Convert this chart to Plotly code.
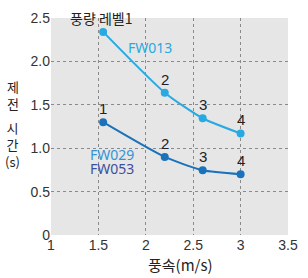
import plotly.graph_objects as go

wind_speed = [1.55, 2.2, 2.6, 3.0]
fw013_time = [2.34, 1.64, 1.345, 1.17]
fw029_time = [1.30, 0.90, 0.745, 0.70]
level_labels = ["1", "2", "3", "4"]
x_ticks = [1, 1.5, 2, 2.5, 3, 3.5]
x_tick_text = ["1", "1.5", "2", "2.5", "3", "3.5"]
y_ticks = [0, 0.5, 1.0, 1.5, 2.0, 2.5]
y_tick_text = ["0", "0.5", "1.0", "1.5", "2.0", "2.5"]

LIGHT = "#29a9e1"
DARK = "#1a72bb"
KR = "Noto Sans CJK KR"
NUM = "Liberation Sans"

fig = go.Figure()
fig.add_trace(go.Scatter(x=wind_speed, y=fw013_time, mode="lines+markers",
                         line=dict(color=LIGHT, width=2, shape="spline", smoothing=0.6),
                         marker=dict(color=LIGHT, size=8), showlegend=False))
fig.add_trace(go.Scatter(x=wind_speed, y=fw029_time, mode="lines+markers",
                         line=dict(color=DARK, width=2, shape="spline", smoothing=0.6),
                         marker=dict(color=DARK, size=8), showlegend=False))

ann = []
for i in range(1, 4):
    ann.append(dict(x=wind_speed[i], y=fw013_time[i], text=level_labels[i], showarrow=False,
                    yanchor="bottom", yshift=3, font=dict(family=NUM, size=15, color="#222")))
for i in range(4):
    ann.append(dict(x=wind_speed[i], y=fw029_time[i], text=level_labels[i], showarrow=False,
                    yanchor="bottom", yshift=3, font=dict(family=NUM, size=15, color="#222")))

ann.append(dict(x=1.525, y=2.5, text="풍량 레벨1", showarrow=False, yanchor="middle",
                xanchor="center", font=dict(family=KR, size=14, color="#222")))
ann.append(dict(x=2.04, y=2.16, text="FW013", showarrow=False,
                font=dict(family="Noto Sans", size=14, color=LIGHT)))
ann.append(dict(x=1.64, y=0.93, text="FW029", showarrow=False,
                font=dict(family="Noto Sans", size=14, color="#3592d6")))
ann.append(dict(x=1.64, y=0.77, text="FW053", showarrow=False,
                font=dict(family="Noto Sans", size=14, color="#3c4f9e")))
ann.append(dict(xref="paper", yref="paper", x=-0.162, y=0.645, text="제<br>전",
                showarrow=False, xanchor="center", yanchor="middle",
                font=dict(family=KR, size=13, color="#222")))
ann.append(dict(xref="paper", yref="paper", x=-0.162, y=0.415, text="시<br>간<br>(s)",
                showarrow=False, xanchor="center", yanchor="middle",
                font=dict(family=KR, size=13, color="#222")))
ann.append(dict(xref="paper", yref="paper", x=0.547, y=-0.138, text="풍속(m/s)",
                showarrow=False, xanchor="center", yanchor="middle",
                font=dict(family=KR, size=15, color="#222")))

fig.update_layout(
    width=308, height=278,
    margin=dict(l=51, r=10, t=18, b=43),
    paper_bgcolor="white", plot_bgcolor="#e6e6e6",
    annotations=ann,
    xaxis=dict(range=[1, 3.5], tickvals=x_ticks, ticktext=x_tick_text,
               showgrid=True, gridcolor="#8a8a8a", griddash="3px,3px", gridwidth=1,
               zeroline=False, showline=False, ticks="",
               tickfont=dict(family=NUM, size=14, color="#333")),
    yaxis=dict(range=[0, 2.5], tickvals=y_ticks, ticktext=y_tick_text,
               showgrid=True, gridcolor="#8a8a8a", griddash="3px,3px", gridwidth=1,
               zeroline=False, showline=False, ticks="",
               tickfont=dict(family=NUM, size=14, color="#333")),
)
fig.write_html("out.html", config={"displayModeBar": False},
               post_script="document.body.style.margin='0px';")
